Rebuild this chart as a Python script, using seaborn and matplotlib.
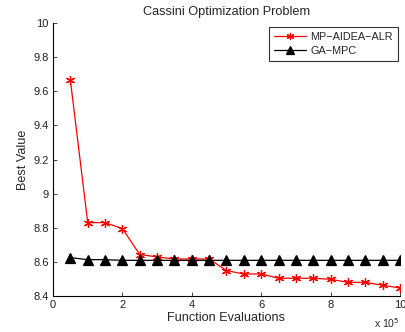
import matplotlib; matplotlib.use("Agg")
import matplotlib.pyplot as plt
import pandas as pd
import seaborn as sns

# x in units of 1e5 function evaluations
evals = [0.5, 1.0, 1.5, 2.0, 2.5, 3.0, 3.5, 4.0, 4.5, 5.0,
         5.5, 6.0, 6.5, 7.0, 7.5, 8.0, 8.5, 9.0, 9.5, 10.0]
mp_aidea = [9.667, 8.830, 8.830, 8.795, 8.643, 8.629, 8.617, 8.617, 8.617, 8.549,
            8.529, 8.529, 8.504, 8.504, 8.504, 8.498, 8.480, 8.480, 8.463, 8.447]
ga_mpc = [8.625, 8.613, 8.613, 8.609, 8.609, 8.609, 8.609, 8.609, 8.609, 8.609,
          8.609, 8.609, 8.609, 8.609, 8.609, 8.609, 8.609, 8.609, 8.609, 8.609]
methods = ["MP\u2212AIDEA\u2212ALR", "GA\u2212MPC"]

sns.set_theme(style="white")
plt.rcParams.update({
    "font.family": ["Liberation Sans", "DejaVu Sans"],
    "axes.unicode_minus": False,
    "xtick.direction": "in",
    "ytick.direction": "in",
    "xtick.major.size": 3,
    "ytick.major.size": 3,
    "xtick.bottom": True,
    "ytick.left": True,
})

fig = plt.figure(figsize=(4.06, 3.32), dpi=100)
ax = fig.add_axes([53 / 406, 36 / 332, 347 / 406, 273 / 332])

styles = [
    (methods[0], mp_aidea, "#ff0000", (6, 2, 0), 6.5),
    (methods[1], ga_mpc, "black", "^", 6.5),
]
for name, vals, color, marker, ms in styles:
    sns.lineplot(x=evals, y=vals, color=color, marker=marker, markersize=ms,
                 markeredgecolor=color, markerfacecolor=color, markeredgewidth=0.9,
                 linewidth=0.9, label=name, ax=ax)

ax.set_xlim(0, 10)
ax.set_ylim(8.4, 10)
ax.set_xticks([0, 2, 4, 6, 8, 10])
ax.set_yticks([8.4, 8.6, 8.8, 9.0, 9.2, 9.4, 9.6, 9.8, 10.0])
ax.set_yticklabels(["8.4", "8.6", "8.8", "9", "9.2", "9.4", "9.6", "9.8", "10"])
ax.tick_params(labelsize=8, colors="#222222", width=0.6, pad=3)
for s in ["top", "right"]:
    ax.spines[s].set_visible(False)
for s in ["left", "bottom"]:
    ax.spines[s].set_color("black")
    ax.spines[s].set_linewidth(0.8)

ax.set_xlabel("Function Evaluations", fontsize=9.1, labelpad=1)
ax.set_ylabel("Best Value", fontsize=9.1, labelpad=3)
ax.set_title("Cassini Optimization Problem", fontsize=9.2, pad=6)
ax.text(1.0, -0.075, "x 10$^5$", transform=ax.transAxes, ha="right", va="top", fontsize=7.5)

leg = ax.legend(loc="upper right", bbox_to_anchor=(398 / 406, (332 - 27) / 332),
                bbox_transform=fig.transFigure, borderaxespad=0, fontsize=7.8,
                frameon=True, fancybox=False, edgecolor="black", borderpad=0.45,
                handlelength=3.0, labelspacing=0.35, handletextpad=0.4, markerscale=0.8)
leg.get_frame().set_linewidth(0.8)

fig.savefig("out.png", dpi=100)
plt.close(fig)
